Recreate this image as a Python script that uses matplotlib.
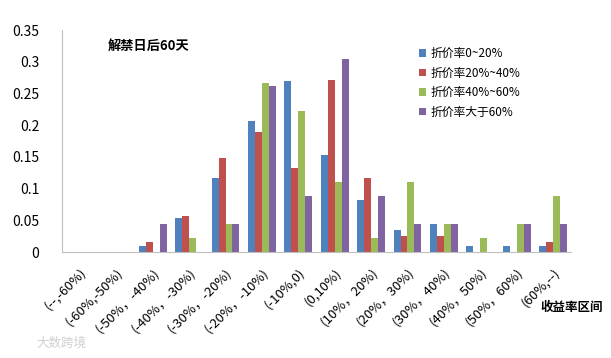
import numpy as np
import matplotlib.pyplot as plt

plt.rcParams['font.family'] = ['Noto Sans CJK SC', 'DejaVu Sans']

categories = ["(--,-60%)", "(-60%,-50%)", "(-50%，-40%)", "(-40%，-30%)",
              "(-30%，-20%)", "(-20%，-10%)", "(-10%,0)", "(0,10%)",
              "(10%，20%)", "(20%，30%)", "(30%，40%)", "(40%，50%)",
              "(50%，60%)", "(60%,--)"]
s1 = [0, 0, 0.010, 0.054, 0.117, 0.207, 0.270, 0.153, 0.082, 0.035, 0.044, 0.010, 0.010, 0.010]
s2 = [0, 0, 0.016, 0.057, 0.149, 0.190, 0.133, 0.272, 0.116, 0.025, 0.025, 0, 0, 0.016]
s3 = [0, 0, 0, 0.022, 0.044, 0.266, 0.222, 0.111, 0.022, 0.111, 0.044, 0.022, 0.044, 0.089]
s4 = [0, 0, 0.044, 0, 0.044, 0.262, 0.088, 0.305, 0.088, 0.044, 0.044, 0, 0.044, 0.044]
names = ["折价率0~20%", "折价率20%~40%", "折价率40%~60%", "折价率大于60%"]
colors = ["#4F81BD", "#C0504D", "#9BBB59", "#8064A2"]

fig = plt.figure(figsize=(6.11, 3.58), dpi=100)
ax = fig.add_axes([0.101, 0.296, 0.834, 0.62])

x = np.arange(len(categories))
w = 0.19
for i, (s, n, c) in enumerate(zip([s1, s2, s3, s4], names, colors)):
    ax.bar(x + (i - 1.5) * w, s, width=w, color=c, label=n)

ax.set_xlim(-0.5, len(categories) - 0.5)
ax.set_ylim(0, 0.35)
ax.set_yticks(np.arange(0, 0.36, 0.05))
ax.set_yticklabels(["0", "0.05", "0.1", "0.15", "0.2", "0.25", "0.3", "0.35"], fontsize=10)
ax.set_xticks(x)
ax.set_xticklabels(categories, rotation=45, ha='right', rotation_mode='anchor', fontsize=9.5)
ax.tick_params(length=0, pad=10)
ax.tick_params(axis='y', pad=16)
for sp in ['top', 'right']:
    ax.spines[sp].set_visible(False)
ax.spines['left'].set_color('#BFBFBF')
ax.spines['bottom'].set_color('#BFBFBF')

ax.text(0.09, 0.93, "解禁日后60天", transform=ax.transAxes, fontsize=9.5, fontweight='bold', va='center')
ax.legend(loc='upper left', bbox_to_anchor=(0.68, 0.97), frameon=False, fontsize=8.5,
          handlelength=0.6, handleheight=0.6, labelspacing=0.55, handletextpad=0.4)
fig.text(0.885, 0.14, "收益率区间", fontsize=9, fontweight='bold', va='center')
fig.text(0.06, 0.04, "大数跨境", fontsize=9, color='#D0D0D0', va='center')

fig.savefig("out.png", dpi=100)
